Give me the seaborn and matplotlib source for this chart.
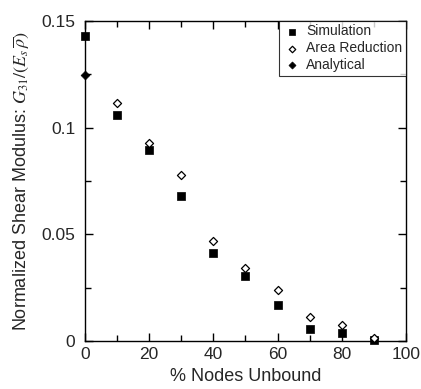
import matplotlib
matplotlib.use("Agg")
import matplotlib.pyplot as plt
import seaborn as sns
from matplotlib.ticker import MultipleLocator

sns.set_theme(style="ticks")
plt.rcParams['font.family'] = ['Liberation Sans', 'DejaVu Sans']
plt.rcParams['mathtext.fontset'] = 'stix'

sim_x = [0, 10, 20, 30, 40, 50, 60, 70, 80, 90]
sim_y = [0.1429, 0.106, 0.0894, 0.0682, 0.0413, 0.0305, 0.0171, 0.0058, 0.0037, 0.0005]
area_x = [10, 20, 30, 40, 50, 60, 70, 80, 90]
area_y = [0.1114, 0.0927, 0.078, 0.0467, 0.0344, 0.0237, 0.0111, 0.0075, 0.0014]
ana_x = [0]
ana_y = [0.1246]

fig = plt.figure(figsize=(4.21, 3.89), dpi=100)
ax = fig.add_axes([0.202, 0.1234, 0.762, 0.8226])

sns.scatterplot(x=sim_x, y=sim_y, ax=ax, marker='s', s=26, color='black',
                edgecolor='black', linewidth=0.5, label='Simulation', clip_on=False, zorder=3)
sns.scatterplot(x=area_x, y=area_y, ax=ax, marker='D', s=17, facecolor='white',
                edgecolor='black', linewidth=0.9, label='Area Reduction', clip_on=False, zorder=3)
sns.scatterplot(x=ana_x, y=ana_y, ax=ax, marker='D', s=20, color='black',
                edgecolor='black', linewidth=0.5, label='Analytical', clip_on=False, zorder=4)

ax.set_xlim(0, 100)
ax.set_ylim(0, 0.15)
ax.xaxis.set_major_locator(MultipleLocator(20))
ax.xaxis.set_minor_locator(MultipleLocator(10))
ax.yaxis.set_minor_locator(MultipleLocator(0.025))
ax.set_yticks([0, 0.05, 0.1, 0.15])
ax.set_yticklabels(['0', '0.05', '0.1', '0.15'])
ax.tick_params(which='both', direction='in', top=True, right=True, labelsize=12.5,
               color='black', width=1.0)
ax.tick_params(axis='x', which='both', pad=4)
ax.tick_params(axis='y', which='both', pad=7)
ax.tick_params(which='major', length=6)
ax.tick_params(which='minor', length=4)
for sp in ax.spines.values():
    sp.set_color('black')
    sp.set_linewidth(1.0)

ax.set_xlabel('% Nodes Unbound', fontsize=13, labelpad=5)
ax.set_ylabel(r'Normalized Shear Modulus: $G_{31}/(E_s\,\overline{\rho})$', fontsize=13, labelpad=7)

leg = ax.legend(loc='upper right', fontsize=10, frameon=True, fancybox=False,
                edgecolor='black', borderpad=0.25, handletextpad=0.4, labelspacing=0.2,
                handlelength=1.3, borderaxespad=0.0, markerscale=0.8)
leg.get_frame().set_linewidth(0.8)

fig.savefig('out.png', dpi=100)
